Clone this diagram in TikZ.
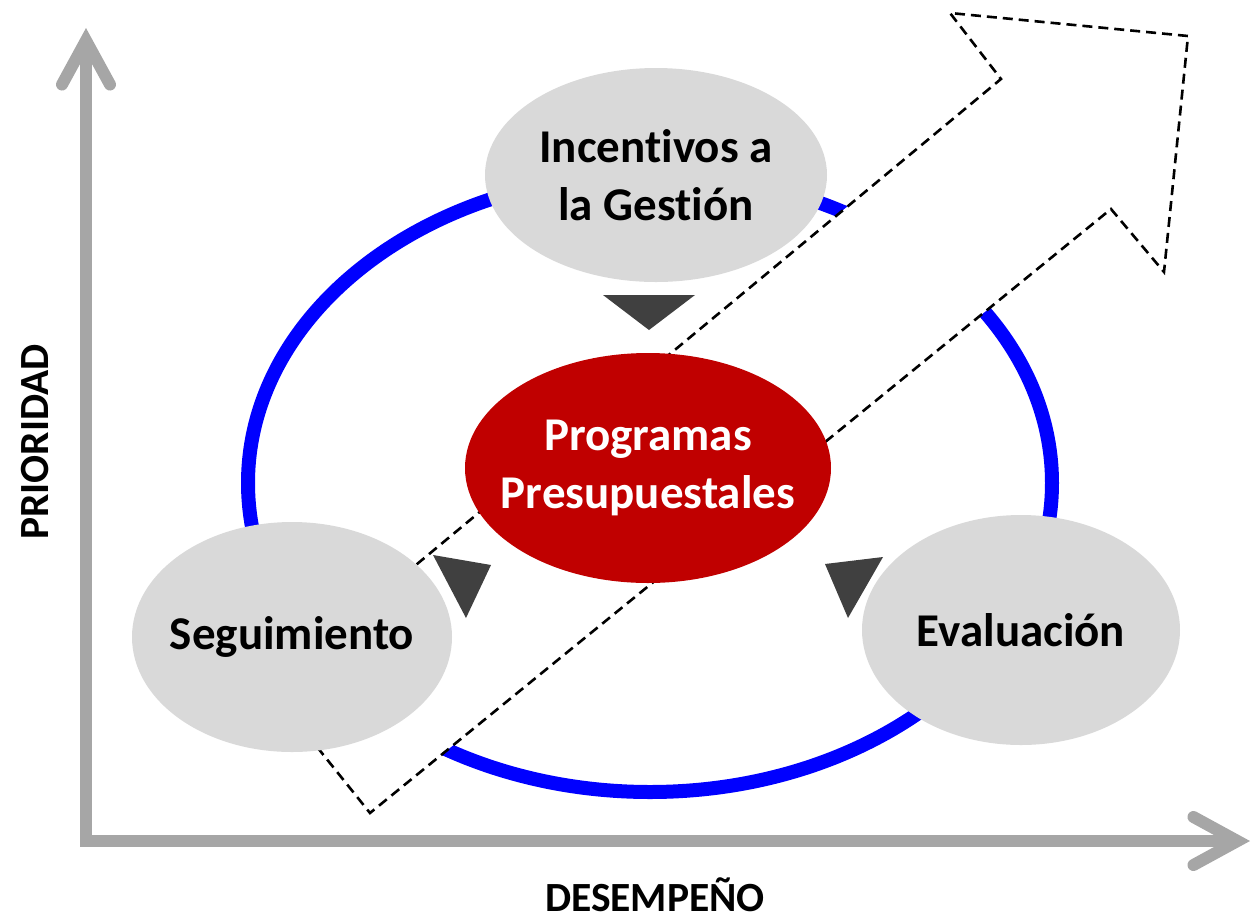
\documentclass[tikz,border=0pt]{standalone}
\usepackage{fontspec}
\setmainfont{Carlito}[Ligatures={NoCommon,NoContextual},Contextuals=NoAlternate]
\usetikzlibrary{arrows.meta,shapes.geometric}
\definecolor{ringblue}{RGB}{0,0,255}
\definecolor{cellgray}{RGB}{217,217,217}
\definecolor{progred}{RGB}{192,0,0}
\definecolor{pointgray}{RGB}{64,64,64}
\definecolor{axisgray}{RGB}{166,166,166}

\begin{document}
\begin{tikzpicture}[x=0.5pt,y=-0.5pt,>={Straight Barb[length=22pt,width=24pt,line cap=round,line join=miter]}]
        \tikzset{bubble/.style= {shape=ellipse, fill=cellgray, inner sep=-20pt, align=center, font=\bfseries\fontsize{23.5}{29}\selectfont},
        core/.style={bubble, fill=progred, text=white},
        ring/.style={draw=ringblue, shape=ellipse, line width=7pt, minimum width=402pt, minimum height=309pt},
        trend/.style={draw, line width=1.3pt, dash pattern=on 5pt off 3pt, fill=white},
        pointer/.style={fill=pointgray},
        axis/.style={draw=axisgray, line width=6pt, line join=miter},
        axislabel/.style={font=\bfseries\fontsize{20.75}{25}\selectfont}
        }
        \useasboundingbox (0,0) rectangle (1255,923);

%% cycle and dashed trend arrow
        \node [ring] (ciclo) at (650,483) {};
        \draw [trend] (269,687) -- (1001,79) -- (950,13) -- (1188,36) -- (1164,272) -- (1111,209) -- (370,813) -- cycle;

%% stages
        \node [bubble, minimum width=171pt, minimum height=107pt] (incentivos) at (656,175) {Incentivos a\\la Gestión};
        \node [bubble, minimum width=160pt, minimum height=115pt] (seguimiento) at (292,637) {Seguimiento};
        \node [bubble, minimum width=159pt, minimum height=115pt] (evaluacion) at (1021,630) {Evaluación};
        \node [core, minimum width=183pt, minimum height=115pt] (programas) at (648,468) {Programas\\Presupuestales};

%% pointers to the centre
        \fill [pointer] (603,295) -- (695,295) -- (649,330) -- cycle;
        \fill [pointer] (433,555) -- (491,565) -- (466,618) -- cycle;
        \fill [pointer] (825,564) -- (883,557) -- (848,618) -- cycle;

%% axes
        \coordinate (origen) at (86,841);
        \coordinate (ytop) at (86,28);
        \coordinate (xend) at (1250,841);
        \draw [axis,<->] (ytop) -- (origen) -- (xend);
        \node [axislabel, rotate=90] (prioridad) at (35,442) {PRIORIDAD};
        \node [axislabel] (desempeno) at (655,895) {DESEMPEÑO};
    \end{tikzpicture}
\end{document}
